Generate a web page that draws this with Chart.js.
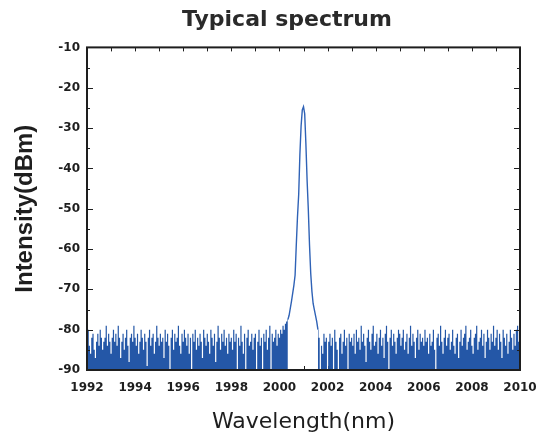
<!DOCTYPE html>
<html>
<head>
<meta charset="utf-8">
<script src="https://cdn.jsdelivr.net/npm/chart.js@4.4.1/dist/chart.umd.min.js"></script>
<style>
  html, body { margin: 0; padding: 0; background: #fff; }
  #wrap { width: 540px; height: 437px; position: relative; }
</style>
</head>
<body>
<div id="wrap"><canvas id="c"></canvas></div>
<script>
// ---- Data ----
const chartTitle = "Typical spectrum";
const xAxisTitle = "Wavelength(nm)";
const yAxisTitle = "Intensity(dBm)";
const xTickValues = [1992, 1994, 1996, 1998, 2000, 2002, 2004, 2006, 2008, 2010];
const yTickValues = [-90, -80, -70, -60, -50, -40, -30, -20, -10];

const sampleStep = 0.05; // nm between spectrum samples

// Noise floor left of the laser line: 1992.00 .. 2000.35 nm
const leftNoiseStart = 1992.0;
const leftNoise = [
  -80,-80,-84,-86,-82,-81,-85,-87,-83,-81,-84,-80,-82,-85,-83,-82,-79,-84,-81,-83,
  -86,-82,-80,-83,-81,-84,-79,-82,-87,-83,-81,-85,-82,-80,-84,-88,-82,-81,-83,-79,
  -82,-84,-81,-86,-83,-80,-82,-85,-81,-83,-89,-82,-80,-84,-82,-81,-86,-83,-79,-82,
  -84,-81,-83,-82,-87,-80,-83,-81,-84,-90,-82,-80,-85,-81,-83,-82,-79,-84,-86,-81,
  -83,-80,-82,-84,-81,-86,-82,-90,-81,-83,-80,-85,-82,-84,-81,-83,-87,-80,-82,-84,
  -81,-83,-86,-80,-82,-84,-81,-88,-83,-79,-82,-85,-81,-83,-80,-84,-82,-86,-81,-83,
  -82,-85,-80,-83,-81,-90,-82,-84,-79,-83,-86,-81,-90,-82,-80,-84,-83,-81,-85,-82,
  -81,-90,-83,-80,-84,-82,-90,-81,-83,-80,-85,-82,-79,-90,-81,-83,-82,-80,-84,-81,
  -82,-80,-81,-79,-80,-78.5,-78,-77.5
];

// Laser line itself
const peakWavelengths = [2000.35,2000.4,2000.5,2000.6,2000.65,2000.7,2000.75,2000.8,2000.85,2000.9,2000.95,2001.0,
  2001.05,2001.1,2001.15,2001.2,2001.25,2001.3,2001.35,2001.4,2001.45,2001.5,2001.55,2001.6];
const peakValues = [-77.5,-76.5,-73,-69,-66.5,-59,-52,-46.5,-36.5,-29.5,-25.5,-24.7,
  -26.5,-34,-43,-50.2,-59,-66,-70.5,-73.5,-75,-76.5,-78,-80];

// Noise floor right of the laser line: 2001.60 .. 2010.00 nm
const rightNoiseStart = 2001.6;
const rightNoise = [
  -80,-82,-90,-84,-86,-81,-83,-82,
  -90,-83,-81,-84,-82,-90,-80,-83,-85,-90,-82,-81,-86,-83,-80,-84,-82,-90,-81,-83,
  -82,-84,-81,-86,-80,-83,-82,-85,-79,-83,-81,-84,-88,-82,-80,-83,-85,-81,-79,-84,
  -83,-81,-86,-82,-80,-84,-82,-87,-81,-79,-83,-90,-82,-80,-84,-81,-83,-86,-82,-80,
  -81,-84,-82,-80,-85,-83,-81,-86,-82,-79,-84,-81,-83,-87,-82,-80,-85,-81,-83,-82,
  -84,-80,-83,-82,-86,-81,-84,-83,-80,-85,-90,-82,-81,-84,-79,-83,-86,-82,-80,-84,
  -82,-81,-85,-83,-80,-84,-86,-82,-81,-87,-83,-80,-84,-82,-81,-79,-85,-83,-82,-80,
  -84,-86,-82,-81,-79,-85,-83,-82,-80,-84,-81,-87,-83,-80,-82,-85,-81,-83,-79,-84,
  -82,-80,-85,-81,-83,-87,-80,-82,-84,-81,-86,-83,-80,-82,-85,-81,-84,-80,-79,-83,
  -80
];

// ---- Build point tables ----
function toPoints(start, values) {
  return values.map((v, i) => ({ x: +(start + i * sampleStep).toFixed(2), y: v }));
}
const leftPts = toPoints(leftNoiseStart, leftNoise);
const rightPts = toPoints(rightNoiseStart, rightNoise);
const peakPts = peakWavelengths.map((w, i) => ({ x: w, y: peakValues[i] }));

const fillBlue = '#2457a7';
const lineBlue = '#2f62b6';
const ink = '#1e1e1e';

const frameTicks = {
  id: 'frameTicks',
  beforeDatasetsDraw(chart) {
    const { ctx, chartArea: a, scales: { x } } = chart;
    ctx.save();
    ctx.strokeStyle = ink;
    ctx.lineWidth = 1;
    for (let w = 1992; w <= 2010; w += 1) {
      const px = Math.round(x.getPixelForValue(w)) + 0.5;
      ctx.beginPath();
      ctx.moveTo(px, a.top); ctx.lineTo(px, a.top + 4);
      ctx.moveTo(px, a.bottom); ctx.lineTo(px, a.bottom - 4);
      ctx.stroke();
    }
    ctx.restore();
  },
  afterDatasetsDraw(chart) {
    const { ctx, chartArea: a, scales: { y } } = chart;
    ctx.save();
    ctx.strokeStyle = ink;
    ctx.lineWidth = 1;
    for (let v = -90; v <= -10; v += 5) {
      const py = Math.round(y.getPixelForValue(v)) + 0.5;
      const len = (v % 10 === 0) ? 6 : 3;
      ctx.beginPath();
      ctx.moveTo(a.left, py); ctx.lineTo(a.left + len, py);
      ctx.moveTo(a.right, py); ctx.lineTo(a.right - len, py);
      ctx.stroke();
    }
    ctx.lineWidth = 2;
    ctx.strokeRect(a.left, a.top, a.right - a.left, a.bottom - a.top);
    ctx.restore();
  }
};

new Chart(document.getElementById('c'), {
  type: 'line',
  data: {
    datasets: [
      { data: leftPts, stepped: 'middle', fill: 'start', backgroundColor: fillBlue,
        borderColor: fillBlue, borderWidth: 0, pointRadius: 0 },
      { data: rightPts, stepped: 'middle', fill: 'start', backgroundColor: fillBlue,
        borderColor: fillBlue, borderWidth: 0, pointRadius: 0 },
      { data: peakPts, fill: false, borderColor: lineBlue, borderWidth: 1.4,
        pointRadius: 0, tension: 0 }
    ]
  },
  options: {
    responsive: true,
    maintainAspectRatio: false,
    animation: false,
    devicePixelRatio: 1,
    layout: { padding: { left: 54, right: 20, top: 0, bottom: 0 } },
    plugins: {
      legend: { display: false },
      tooltip: { enabled: false },
      title: {
        display: true, text: chartTitle, color: '#2a2a2a',
        font: { family: 'DejaVu Sans', size: 22, weight: 'bold' },
        padding: { top: 7, bottom: 14 }
      }
    },
    scales: {
      x: {
        type: 'linear', min: 1992, max: 2010,
        afterBuildTicks: (s) => { s.ticks = xTickValues.map(v => ({ value: v })); },
        afterFit: (s) => { s.height = 67; },
        grid: { display: false, drawTicks: false },
        border: { display: false },
        ticks: { color: ink, padding: 3, maxRotation: 0, autoSkip: false,
          font: { family: 'DejaVu Sans', size: 12, weight: 'bold', lineHeight: 2.5 },
          callback: (v) => String(v) },
        title: { display: true, text: xAxisTitle, color: ink,
          font: { family: 'DejaVu Sans', size: 22, weight: 'normal' },
          padding: { top: 0, bottom: 2 } }
      },
      y: {
        type: 'linear', min: -90, max: -10,
        afterBuildTicks: (s) => { s.ticks = yTickValues.map(v => ({ value: v })); },
        afterFit: (s) => { s.width = 33; },
        grid: { display: false, drawTicks: false },
        border: { display: false },
        ticks: { color: ink, padding: 7, autoSkip: false,
          font: { family: 'DejaVu Sans', size: 12, weight: 'bold' },
          callback: (v) => String(v) },
        title: { display: true, text: yAxisTitle, color: ink,
          font: { family: 'Liberation Sans', size: 24, weight: 'bold' },
          padding: { top: -43.4, bottom: 0 } }
      }
    }
  },
  plugins: [frameTicks]
});
</script>
</body>
</html>
